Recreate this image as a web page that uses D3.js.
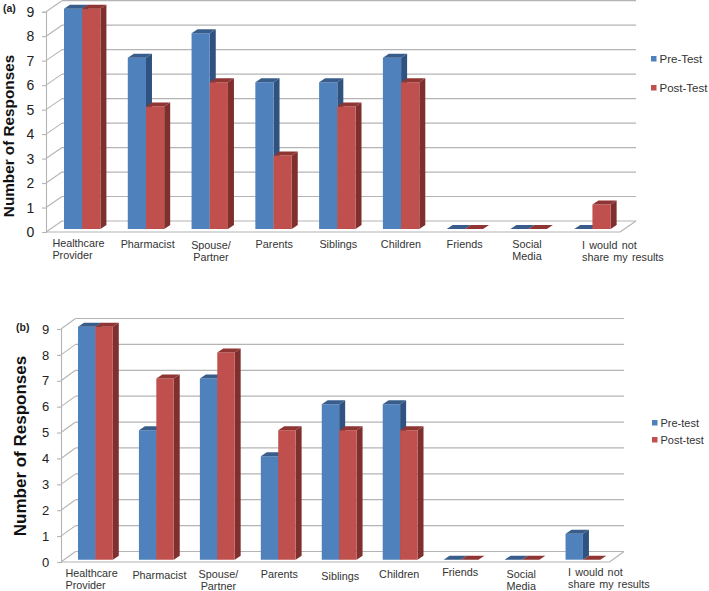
<!DOCTYPE html>
<html><head><meta charset="utf-8">
<script src="https://cdn.jsdelivr.net/npm/d3@7"></script>
<style>html,body{margin:0;padding:0;background:#fff}svg{display:block}text{font-family:"Liberation Sans",Arial,sans-serif}</style>
</head><body><svg id="c" width="709" height="591"></svg>
<script>
const categories = [["Healthcare","Provider"],["Pharmacist"],["Spouse/","Partner"],["Parents"],["Siblings"],["Children"],["Friends"],["Social","Media"],["I would not","share my results"]];
const preA  = [9,7,8,6,6,7,0,0,0];
const postA = [9,5,6,3,5,6,0,0,1];
const preB  = [9,5,7,4,6,6,0,0,1];
const postB = [9,7,8,5,5,5,0,0,0];
const yTicks = [0,1,2,3,4,5,6,7,8,9];

const panels = [
 {tag:"(a)",tagX:3,tagY:12,pre:preA,post:postA,names:["Pre-Test","Post-Test"],
  x0:46,x1:620,yZero:232,yNine:11.7,backDx:16,backDy:-11,barDrop:3,barW:18.2,
  tickSize:14,titleX:14,titleY:136,titleSize:15.3,tickX:30.5,
  legX:651,legY:[59,88],legSize:11.5,
  lab:[[0,247],[6,248],[5.5,249],[5,248],[5.3,248],[4.2,248],[4,248],[2,248],[33,249]]},
 {tag:"(b)",tagX:16,tagY:331,pre:preB,post:postB,names:["Pre-test","Post-test"],
  x0:61,x1:609.5,yZero:562,yNine:329,backDx:14.5,backDy:-10.5,barDrop:2.3,barW:17.4,
  tickSize:13,titleX:26,titleY:446,titleSize:17,tickX:45.5,
  legX:652,legY:[423,440],legSize:11,
  lab:[[-0.5,577],[7,579],[5,578],[5,578],[5,580],[3,577.5],[3,576],[2.5,578],[28,576]]}
];
const blue={front:"#4f81bd",top:"#385d8a",side:"#2f5280"};
const red ={front:"#c0504d",top:"#8f3533",side:"#7f2f2d"};
const grid="#b4b4b4";
const svg=d3.select("#c");

panels.forEach(p=>{
  const g=svg.append("g");
  const x=d3.scaleBand().domain(d3.range(categories.length)).range([p.x0,p.x1]);
  const y=d3.scaleLinear().domain([0,9]).range([p.yZero,p.yNine]);
  const barBase=v=>y(v)-p.barDrop;
  const xEnd=p.x1+p.backDx;

  g.selectAll(".grid").data(yTicks).join("line")
   .attr("x1",p.x0+p.backDx).attr("x2",xEnd)
   .attr("y1",d=>y(d)+p.backDy).attr("y2",d=>y(d)+p.backDy)
   .attr("stroke",grid).attr("stroke-width",1.2);
  g.selectAll(".diag").data(yTicks).join("line")
   .attr("x1",p.x0).attr("x2",p.x0+p.backDx)
   .attr("y1",d=>y(d)).attr("y2",d=>y(d)+p.backDy)
   .attr("stroke",grid).attr("stroke-width",1.1);
  g.append("line").attr("x1",p.x0).attr("x2",p.x1).attr("y1",y(0)).attr("y2",y(0)).attr("stroke",grid).attr("stroke-width",1.2);
  g.append("line").attr("x1",p.x1).attr("x2",xEnd).attr("y1",y(0)).attr("y2",y(0)+p.backDy).attr("stroke",grid).attr("stroke-width",1.1);

  const ax=d3.axisLeft(y).tickValues(yTicks).tickSize(4).tickPadding(0).tickFormat(d3.format("d"));
  const axG=g.append("g").attr("transform",`translate(${p.x0},0)`).call(ax);
  axG.select(".domain").attr("stroke",grid).attr("stroke-width",1.1);
  axG.selectAll(".tick line").attr("stroke",grid).attr("stroke-width",1.1);
  axG.selectAll(".tick text").attr("x",p.tickX-p.x0).attr("text-anchor","middle")
     .attr("font-size",p.tickSize).attr("fill","#222").attr("font-family",'"Liberation Sans",Arial,sans-serif');

  const dx=6, dy=-4;
  const drawBar=(bx,v,c)=>{
    const b=barBase(0), t=barBase(v), w=p.barW;
    const poly=(pts,f)=>g.append("polygon").attr("points",pts.map(q=>q.join(",")).join(" ")).attr("fill",f);
    if(v>0){
      poly([[bx+w,t],[bx+w+dx,t+dy],[bx+w+dx,b+dy],[bx+w,b]],c.side);
      poly([[bx,b],[bx+w,b],[bx+w,t],[bx,t]],c.front);
    }
    poly([[bx,t],[bx+w,t],[bx+w+dx,t+dy],[bx+dx,t+dy]],c.top);
  };
  categories.forEach((_,i)=>{
    const cx=x(i)+x.bandwidth()/2+p.backDx*0.27;
    drawBar(cx-p.barW,p.pre[i],blue);
    drawBar(cx,p.post[i],red);
  });

  categories.forEach((lines,i)=>{
    const cx=x(i)+x.bandwidth()/2+p.lab[i][0];
    const first=lines[0];
    const left=first.startsWith("I would")||first==="Healthcare"||first==="Social";
    const wid=first.startsWith("I would")?78:(first==="Healthcare"?51:(first==="Social"?28:0));
    const t=g.append("text").attr("font-size",10.8).attr("fill","#333")
      .attr("text-anchor",left?"start":"middle").attr("word-spacing",first.startsWith("I would")?1.2:0);
    lines.forEach((s,k)=>t.append("tspan").attr("x",left?cx-wid/2:cx).attr("y",p.lab[i][1]+k*12).text(s));
  });

  g.append("text").attr("transform",`translate(${p.titleX},${p.titleY}) rotate(-90)`).attr("text-anchor","middle")
   .attr("font-size",p.titleSize).attr("font-weight","bold").attr("fill","#111").text("Number of Responses");
  g.append("text").attr("x",p.tagX).attr("y",p.tagY).attr("font-size",10.5).attr("font-weight","bold").attr("fill","#222").text(p.tag);
  p.names.forEach((n,k)=>{
    g.append("rect").attr("x",p.legX).attr("y",p.legY[k]-3).attr("width",5.5).attr("height",5.5).attr("fill",k?red.front:blue.front);
    g.append("text").attr("x",p.legX+8.5).attr("y",p.legY[k]+4).attr("font-size",p.legSize).attr("fill","#333").text(n);
  });
});
</script></body></html>
